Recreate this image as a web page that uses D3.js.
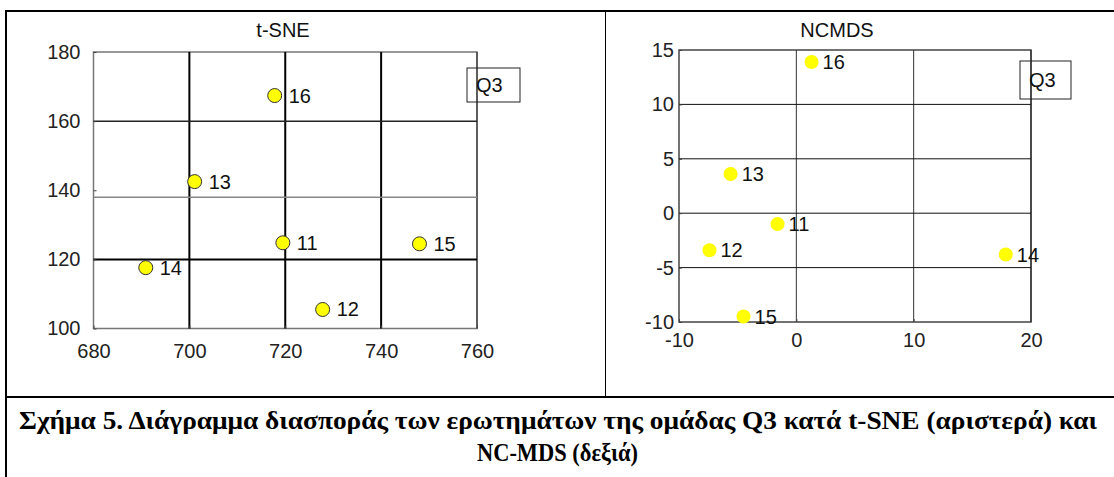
<!DOCTYPE html>
<html>
<head>
<meta charset="utf-8">
<script src="https://cdn.jsdelivr.net/npm/d3@7"></script>
<style>
  body { margin: 0; background: #fff; }
  svg { display: block; }
  .tick text { font-family: "Liberation Sans", Arial, sans-serif; font-size: 20px; fill: #222; }
</style>
</head>
<body>
<div id="chart"></div>
<script>
// point ids and coordinates
var pointLabels = ["11", "12", "13", "14", "15", "16"];
var tsneX = [719.5, 727.8, 701.1, 690.9, 748.0, 717.8];
var tsneY = [124.8, 105.5, 142.5, 117.6, 124.5, 167.4];
var ncmdsX = [-1.6, -7.4, -5.6, 17.85, -4.5, 1.3];
var ncmdsY = [-1.0, -3.4, 3.6, -3.8, -9.5, 13.9];

// ticks
var tsneXTicks = [680, 700, 720, 740, 760];
var tsneYTicks = [100, 120, 140, 160, 180];
var ncmdsXTicks = [-10, 0, 10, 20];
var ncmdsYTicks = [-10, -5, 0, 5, 10, 15];

// quadrant lines drawn over the plots
var tsneGridX = [700, 720, 740];
var tsneGridY = [160, 138, 120];
var ncmdsGridX = [0, 10];
var ncmdsGridY = [10, 5, 0, -5];

var captionLines = [
  "Σχήμα 5. Διάγραμμα διασποράς των ερωτημάτων της ομάδας Q3 κατά t-SNE (αριστερά) και",
  "NC-MDS (δεξιά)"
];

var svgWidth = 1114, svgHeight = 477;
var font = '"Liberation Sans", Arial, sans-serif';
var serif = '"Liberation Serif", "Times New Roman", serif';

var svg = d3.select("#chart").append("svg")
    .attr("width", svgWidth)
    .attr("height", svgHeight);

// frame of the figure table
svg.append("line").attr("x1", 6).attr("x2", svgWidth).attr("y1", 11).attr("y2", 11)
    .attr("stroke", "#000").attr("stroke-width", 2);
svg.append("line").attr("x1", 6).attr("x2", 6).attr("y1", 10).attr("y2", svgHeight)
    .attr("stroke", "#000").attr("stroke-width", 2);
svg.append("line").attr("x1", 605.5).attr("x2", 605.5).attr("y1", 11).attr("y2", 397)
    .attr("stroke", "#000").attr("stroke-width", 1);
svg.append("line").attr("x1", 6).attr("x2", svgWidth).attr("y1", 397).attr("y2", 397)
    .attr("stroke", "#000").attr("stroke-width", 2);

function drawPanel(cfg) {
  var x = d3.scaleLinear().domain(cfg.xDomain).range([cfg.left, cfg.right]);
  var y = d3.scaleLinear().domain(cfg.yDomain).range([cfg.bottom, cfg.top]);
  var g = svg.append("g");

  var data = pointLabels.map(function(d, i) {
    return { label: d, x: cfg.xs[i], y: cfg.ys[i] };
  });

  // axis box
  g.append("rect")
    .attr("x", cfg.left).attr("y", cfg.top)
    .attr("width", cfg.right - cfg.left).attr("height", cfg.bottom - cfg.top)
    .attr("fill", "none").attr("stroke", cfg.boxColor).attr("stroke-width", 1.5);
  g.append("line")
    .attr("x1", cfg.right).attr("x2", cfg.right).attr("y1", cfg.top).attr("y2", cfg.bottom)
    .attr("stroke", "#222").attr("stroke-width", 1);

  // quadrant lines
  g.selectAll(".gx").data(cfg.gridX).enter().append("line")
    .attr("x1", d => x(d)).attr("x2", d => x(d))
    .attr("y1", cfg.top).attr("y2", cfg.bottom)
    .attr("stroke", (d, i) => cfg.gridXStyle[i][0])
    .attr("stroke-width", (d, i) => cfg.gridXStyle[i][1]);
  g.selectAll(".gy").data(cfg.gridY).enter().append("line")
    .attr("x1", cfg.left).attr("x2", cfg.right)
    .attr("y1", d => y(d)).attr("y2", d => y(d))
    .attr("stroke", (d, i) => cfg.gridYStyle[i][0])
    .attr("stroke-width", (d, i) => cfg.gridYStyle[i][1]);

  // axes (plain hyphen minus, as in the original)
  var xAxis = d3.axisBottom(x).tickValues(cfg.xTicks).tickFormat(d => String(d))
    .tickSizeInner(-3).tickSizeOuter(0).tickPadding(cfg.xPad);
  var yAxis = d3.axisLeft(y).tickValues(cfg.yTicks).tickFormat(d => String(d))
    .tickSizeInner(-3).tickSizeOuter(0).tickPadding(cfg.yPad);

  var gx = g.append("g").attr("transform", `translate(0, ${cfg.bottom})`).call(xAxis);
  var gy = g.append("g").attr("transform", `translate(${cfg.left}, 0)`).call(yAxis);
  [gx, gy].forEach(function(a) {
    a.select(".domain").remove();
    a.selectAll(".tick line").attr("stroke", "#444");
    a.attr("font-family", null).attr("font-size", null);
  });

  // points
  g.selectAll("circle").data(data).enter().append("circle")
    .attr("cx", d => x(d.x))
    .attr("cy", d => y(d.y))
    .attr("r", 7)
    .attr("fill", "#ffff00")
    .attr("stroke", cfg.pointStroke)
    .attr("stroke-width", 1);

  g.selectAll(".plabel").data(data).enter().append("text")
    .attr("x", d => x(d.x) + cfg.labelDx)
    .attr("y", d => y(d.y) + 7)
    .attr("font-family", font).attr("font-size", 20).attr("fill", "#111")
    .text(d => d.label);

  // title
  g.append("text")
    .attr("x", cfg.titleX).attr("y", 37)
    .attr("text-anchor", "middle")
    .attr("font-family", font).attr("font-size", 20).attr("fill", "#111")
    .text(cfg.title);

  // legend box
  g.append("rect")
    .attr("x", cfg.legend[0]).attr("y", cfg.legend[1])
    .attr("width", cfg.legend[2]).attr("height", cfg.legend[3])
    .attr("fill", "none").attr("stroke", "#222").attr("stroke-width", 1);
  g.append("text")
    .attr("x", cfg.legend[0] + 9).attr("y", cfg.legend[1] + cfg.legend[3] / 2 + 7)
    .attr("font-family", font).attr("font-size", 20).attr("fill", "#111")
    .text("Q3");
}

drawPanel({
  xs: tsneX, ys: tsneY,
  xDomain: [680, 760], yDomain: [100, 180],
  left: 93.5, right: 477, top: 52, bottom: 328.5,
  xTicks: tsneXTicks, yTicks: tsneYTicks,
  xPad: 15, yPad: 13,
  gridX: tsneGridX, gridY: tsneGridY,
  gridXStyle: [["#000", 2], ["#000", 2], ["#000", 2]],
  gridYStyle: [["#222", 1.5], ["#888", 1.5], ["#000", 2]],
  boxColor: "#777",
  pointStroke: "#333",
  labelDx: 14,
  title: "t-SNE", titleX: 283,
  legend: [467, 68, 53, 34]
});

drawPanel({
  xs: ncmdsX, ys: ncmdsY,
  xDomain: [-10, 20], yDomain: [-10, 15],
  left: 679, right: 1031, top: 50, bottom: 322,
  xTicks: ncmdsXTicks, yTicks: ncmdsYTicks,
  xPad: 11, yPad: 5,
  gridX: ncmdsGridX, gridY: ncmdsGridY,
  gridXStyle: [["#333", 1], ["#333", 1]],
  gridYStyle: [["#111", 1], ["#111", 1], ["#111", 1], ["#111", 1]],
  boxColor: "#444",
  pointStroke: "none",
  labelDx: 11,
  title: "NCMDS", titleX: 837,
  legend: [1020, 61, 51, 38]
});

// caption
svg.append("text")
  .attr("x", 19).attr("y", 429)
  .attr("textLength", 1078).attr("lengthAdjust", "spacingAndGlyphs")
  .attr("font-family", serif)
  .attr("font-weight", "bold").attr("font-size", 25).attr("fill", "#000")
  .text(captionLines[0]);
svg.append("text")
  .attr("x", 477).attr("y", 461)
  .attr("textLength", 161).attr("lengthAdjust", "spacingAndGlyphs")
  .attr("font-family", serif)
  .attr("font-weight", "bold").attr("font-size", 25).attr("fill", "#000")
  .text(captionLines[1]);
</script>
</body>
</html>
